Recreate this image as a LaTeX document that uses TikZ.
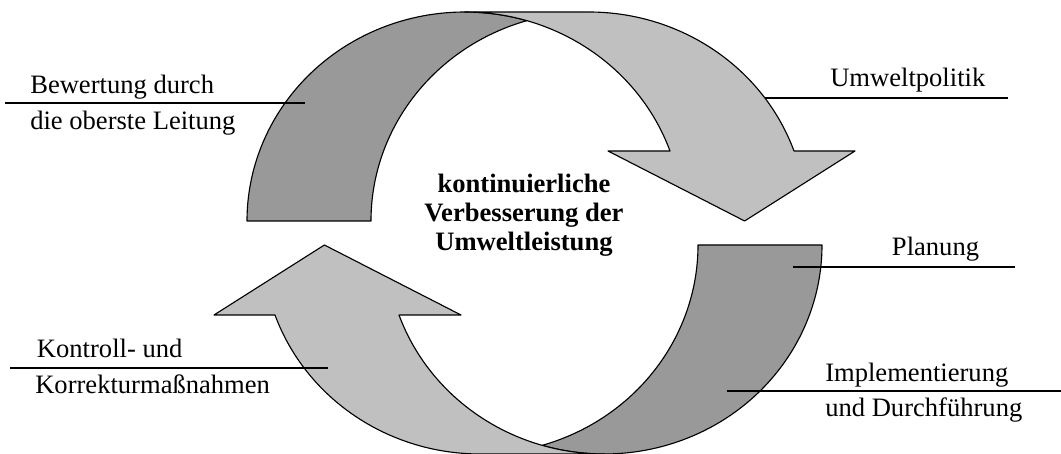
\documentclass[tikz,border=0pt]{standalone}
\usepackage{fontspec}
\setmainfont{Liberation Serif}
\usepackage{tikz}
\usepackage{xcolor}

\definecolor{backgrey}{RGB}{153,153,153}
\definecolor{frontgrey}{RGB}{192,192,192}

% one bent arrow: shaded back part and the front part with its head
\newcommand{\bentarrow}{%
  \path[band, fill=backgrey] (247,233)
    arc[start angle=180, end angle=73.46, x radius=217.8, y radius=209]
    arc[start angle=106.54, end angle=180, x radius=217.8, y radius=209]
    -- cycle;
  \path[band, fill=frontgrey] (464.8,442) -- (588.8,442)
    arc[start angle=90, end angle=19.57, x radius=217.8, y radius=209]
    -- (855,303) -- (744.6,233) -- (608,303) -- (670,303)
    arc[start angle=19.57, end angle=90, x radius=217.8, y radius=209]
    -- cycle;
}

\begin{document}
\begin{tikzpicture}[
            x = 0.025cm, y = 0.025cm, % one unit per pixel
            band/.style = {draw=black, line width=0.8pt, line join=round}, % arrow outline
            lead/.style = {line width=1.2pt}, % label lines
            lbl/.style = {inner sep=0pt, anchor=base west,
                          font=\fontsize{18.9}{22}\selectfont}
        ]
\useasboundingbox (0,0) rectangle (1061,454);

\bentarrow
\begin{scope}[rotate around={180:(534.5,221)}]
\bentarrow
\end{scope}

\node[inner sep=0pt, align=center, font=\fontsize{18.9}{20.6}\selectfont\bfseries]
  (core) at (524,239) {kontinuierliche\\Verbesserung der\\Umweltleistung};

\node[lbl] (bew1) at (30,360.7) {Bewertung durch};
\node[lbl] (bew2) at (30,324) {die oberste Leitung};
\node[lbl] (pol) at (830,367.3) {Umweltpolitik};
\node[lbl] (plan) at (891.7,198) {Planung};
\node[lbl] (impl1) at (825,72.3) {Implementierung};
\node[lbl] (impl2) at (825,37.3) {und Durchführung};
\node[lbl] (kon1) at (36.7,96.7) {Kontroll- und};
\node[lbl] (kon2) at (35,60.7) {Korrekturmaßnahmen};

\coordinate (bew-out) at (5,351);
\coordinate (bew-in) at (305,351);
\coordinate (pol-in) at (765,356);
\coordinate (pol-out) at (1008,356);
\coordinate (plan-in) at (792.7,187.3);
\coordinate (plan-out) at (1015,187.3);
\coordinate (impl-in) at (726.7,63.3);
\coordinate (impl-out) at (1061,63.3);
\coordinate (kon-out) at (10,86);
\coordinate (kon-in) at (328.3,86);

\draw[lead] (bew-out) -- (bew-in);
\draw[lead] (pol-in) -- (pol-out);
\draw[lead] (plan-in) -- (plan-out);
\draw[lead] (impl-in) -- (impl-out);
\draw[lead] (kon-out) -- (kon-in);

\end{tikzpicture}
\end{document}
